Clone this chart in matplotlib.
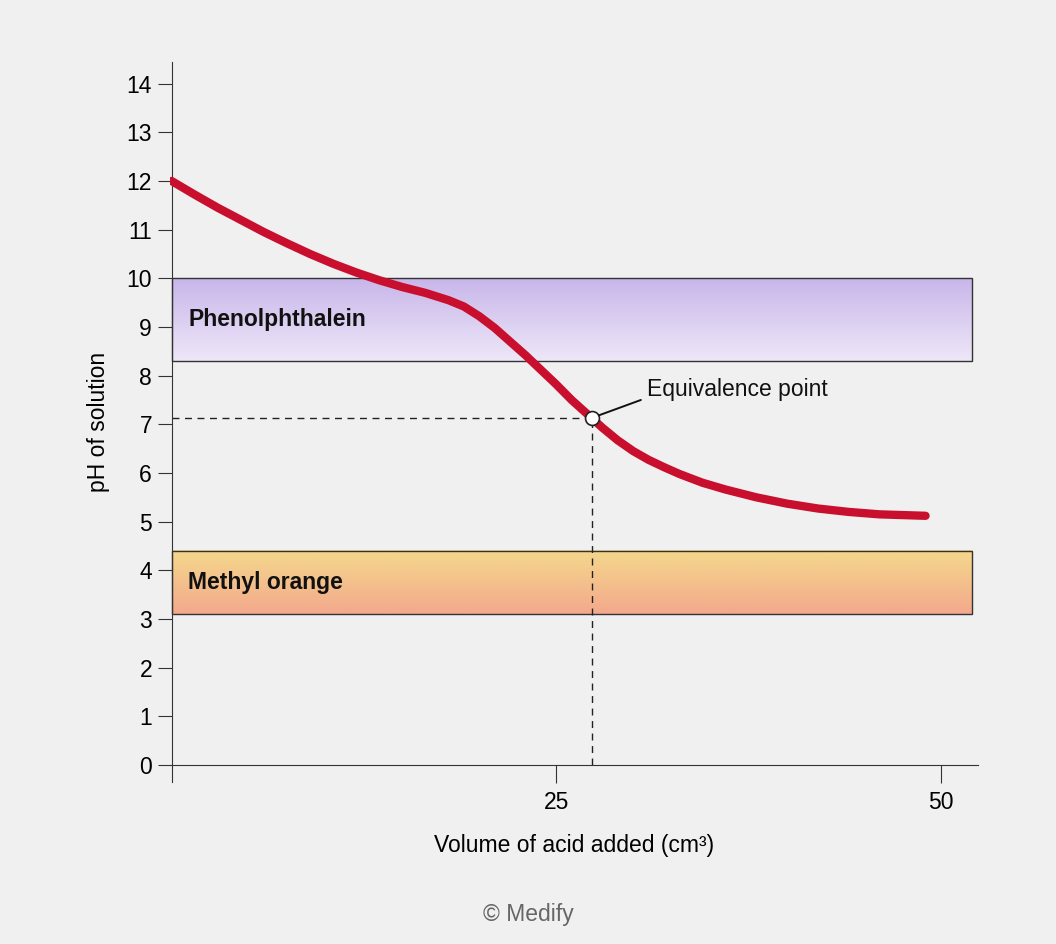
import matplotlib
matplotlib.use("Agg")
import matplotlib.pyplot as plt
import numpy as np
from matplotlib.colors import LinearSegmentedColormap

plt.rcParams['font.family'] = ['Liberation Sans', 'DejaVu Sans']

volume = [0, 1.5, 3, 4.5, 6, 7.5, 9, 10.5, 12, 13.5, 15, 16.5, 18, 19, 20, 21, 22, 23, 24, 25,
          26, 27.3, 28, 29, 30, 31, 32, 33, 34.5, 36, 38, 40, 42, 44, 46, 49]
ph = [12.0, 11.72, 11.45, 11.2, 10.95, 10.72, 10.5, 10.3, 10.12, 9.96, 9.82, 9.7, 9.55, 9.42, 9.22,
      8.98, 8.7, 8.42, 8.12, 7.82, 7.5, 7.13, 6.93, 6.67, 6.45, 6.27, 6.12, 5.98, 5.8, 5.66,
      5.5, 5.37, 5.27, 5.2, 5.15, 5.12]
equiv = (27.3, 7.13)
bands = [("Phenolphthalein", 8.3, 10.0, "#c8b6ea", "#eee7f8"),
         ("Methyl orange", 3.1, 4.4, "#f5d88c", "#f3a98c")]
band_x = (0, 52)
xticks = [25, 50]
yticks = list(range(0, 15))

bg = "#f0f0f0"
fs = 16.5
fig = plt.figure(figsize=(10.56, 9.44), dpi=100, facecolor=bg)
ax = fig.add_axes([0.161, 0.1716, 0.765, 0.763])
ax.set_facecolor(bg)
ax.set_xlim(-0.1, 52.4)
ax.set_ylim(-0.35, 14.45)

for name, lo, hi, c1, c2 in bands:
    cmap = LinearSegmentedColormap.from_list(name, [c2, c1])
    grad = np.linspace(0, 1, 100).reshape(-1, 1)
    ax.imshow(grad, extent=[band_x[0], band_x[1], lo, hi], origin='lower',
              cmap=cmap, aspect='auto', zorder=1)
    ax.add_patch(plt.Rectangle((band_x[0], lo), band_x[1] - band_x[0], hi - lo,
                               fill=False, ec='#333333', lw=1, zorder=2))
    ax.text(1.1, (lo + hi) / 2, name, fontsize=fs, fontweight='bold',
            va='center', ha='left', color='#111111', zorder=3)

ax.plot([0, equiv[0]], [equiv[1], equiv[1]], ls=(0, (5, 4)), color='#222222', lw=1, zorder=2)
ax.plot([equiv[0], equiv[0]], [0, equiv[1]], ls=(0, (5, 4)), color='#222222', lw=1, zorder=2)
ax.plot(volume, ph, color='#c8102e', lw=6, solid_capstyle='round', solid_joinstyle='round', zorder=4)
ax.plot(*equiv, 'o', ms=10, mfc='white', mec='#222222', mew=1.2, zorder=5)
ax.annotate("", xy=equiv, xytext=(30.5, 7.5),
            arrowprops=dict(arrowstyle='-', color='#111111', lw=1.4,
                            shrinkA=0, shrinkB=6), zorder=5)
ax.text(30.9, 7.72, "Equivalence point", fontsize=fs, va='center', ha='left', color='#111111')

for s in ['top', 'right']:
    ax.spines[s].set_visible(False)
ax.spines['bottom'].set_position(('data', 0))
ax.spines['left'].set_position(('data', 0))
for s in ['bottom', 'left']:
    ax.spines[s].set_color('#333333')
ax.set_xticks(xticks)
ax.set_yticks(yticks)
ax.tick_params(axis='x', direction='out', length=13, labelsize=fs, pad=6, color='#333333')
ax.tick_params(axis='y', direction='out', length=10, labelsize=fs, pad=4, color='#333333')
ax.set_xlabel("Volume of acid added (cm³)", fontsize=fs, labelpad=14)
ax.set_ylabel("pH of solution", fontsize=fs, labelpad=12)

fig.text(0.5, 0.024, "© Medify", ha='center', fontsize=fs, color='#666666')
fig.savefig("out.png", dpi=100, facecolor=bg)
